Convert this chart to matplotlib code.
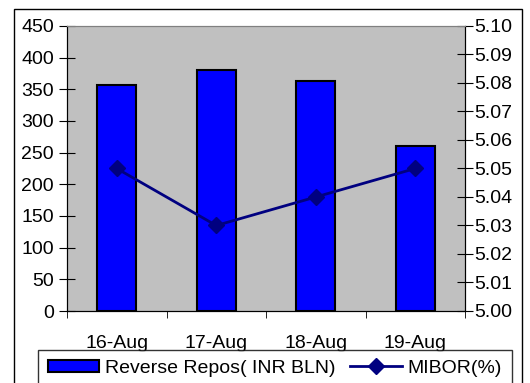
import matplotlib
matplotlib.use("Agg")
from matplotlib import pyplot as plt
from matplotlib.patches import Rectangle

plt.rcParams['font.family'] = ['Liberation Sans', 'DejaVu Sans']

# chart data
dates = ["16-Aug", "17-Aug", "18-Aug", "19-Aug"]
reverse_repos = [357, 381, 363, 260]
mibor = [5.05, 5.03, 5.04, 5.05]

left_ticks = [0, 50, 100, 150, 200, 250, 300, 350, 400, 450]
right_ticks = [5.00, 5.01, 5.02, 5.03, 5.04, 5.05, 5.06, 5.07, 5.08, 5.09, 5.10]

fs = 14

fig = plt.figure(figsize=(5.3, 3.83), dpi=100)

# outer chart frame
fig.patches.append(Rectangle((14 / 530, -0.05), (522 - 14) / 530, 1.05 - 9 / 383,
                             transform=fig.transFigure, fill=False,
                             edgecolor='black', linewidth=1.0))

ax = fig.add_axes([67 / 530, 1 - 311 / 383, (465 - 67) / 530, (311 - 26) / 383])
ax.set_facecolor('#C0C0C0')

x = list(range(len(dates)))
bars = ax.bar(x, reverse_repos, width=0.39, color='#0000FF',
              edgecolor='black', linewidth=1.5, zorder=2,
              label='Reverse Repos( INR BLN)')
ax.set_xlim(-0.5, len(dates) - 0.5)
ax.set_ylim(0, 450)
ax.set_yticks(left_ticks)
ax.set_xticks(x)
ax.set_xticklabels(dates)
ax.set_xticks([i - 0.5 for i in range(len(dates) + 1)], minor=True)
ax.tick_params(axis='x', which='major', length=0, pad=17, labelsize=fs)
ax.tick_params(axis='x', which='minor', length=5, direction='out', color='black')
ax.tick_params(axis='y', direction='inout', length=11, labelsize=fs, pad=4)

ax2 = ax.twinx()
line, = ax2.plot(x, mibor, color='#000080', linewidth=2, marker='D',
                 markersize=8, markerfacecolor='#000080', label='MIBOR(%)', zorder=3)
ax2.set_ylim(5.00, 5.10)
ax2.set_yticks(right_ticks)
ax2.set_yticklabels(["%.2f" % t for t in right_ticks])
ax2.tick_params(axis='y', direction='inout', length=11, labelsize=fs, pad=1)

for a in (ax, ax2):
    a.spines['top'].set_color('#808080')
    a.spines['left'].set_color('black')
    a.spines['bottom'].set_color('black')
    a.spines['right'].set_color('black')

leg = fig.legend(handles=[bars, line], loc='upper left',
                 bbox_to_anchor=(38 / 530, 1 - 350 / 383), ncol=2,
                 fontsize=fs, frameon=True, fancybox=False,
                 edgecolor='black', borderpad=0.5, handlelength=2.65,
                 handleheight=0.6, columnspacing=0.75, handletextpad=0.3,
                 borderaxespad=0)
leg.get_frame().set_linewidth(1.0)

fig.savefig("out.png", dpi=100)
